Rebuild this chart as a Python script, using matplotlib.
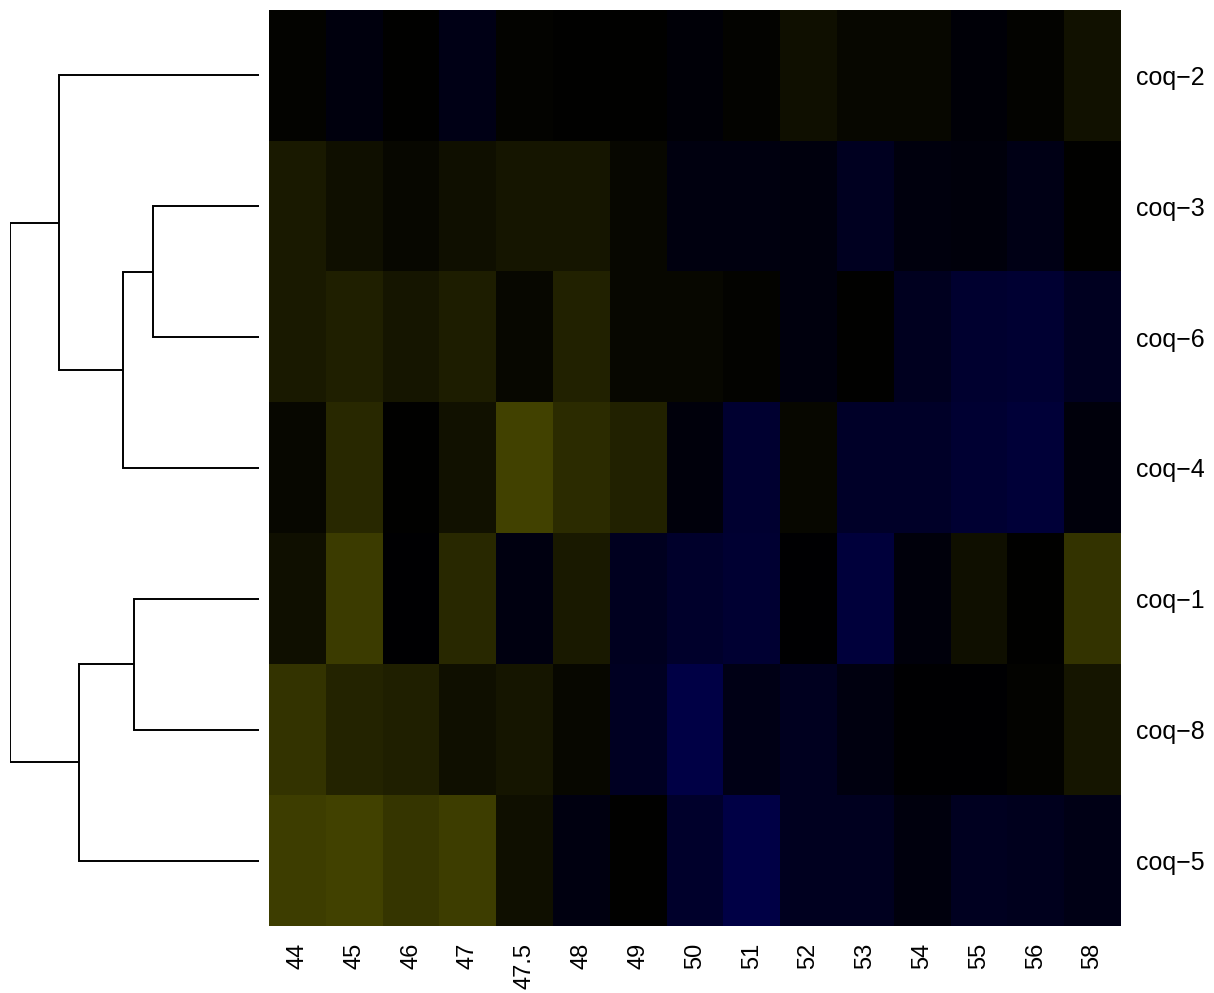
import numpy as np
import matplotlib
matplotlib.use("Agg")
import matplotlib.pyplot as plt
from matplotlib.colors import LinearSegmentedColormap

plt.rcParams['font.family'] = ['Liberation Sans', 'DejaVu Sans']

# ---- data ----
row_labels = ["coq\u22122", "coq\u22123", "coq\u22126", "coq\u22124",
              "coq\u22121", "coq\u22128", "coq\u22125"]
col_labels = ["44", "45", "46", "47", "47.5", "48", "49", "50", "51",
              "52", "53", "54", "55", "56", "58"]

coq2 = [0.01, -0.05, 0.0, -0.08, 0.01, 0.0, 0.0, -0.03, 0.015, 0.055, 0.025, 0.03, -0.03, 0.01, 0.07]
coq3 = [0.10, 0.06, 0.03, 0.06, 0.085, 0.085, 0.03, -0.06, -0.06, -0.05, -0.13, -0.05, -0.04, -0.08, 0.0]
coq6 = [0.10, 0.12, 0.085, 0.11, 0.03, 0.13, 0.03, 0.03, 0.015, -0.05, 0.005, -0.12, -0.18, -0.20, -0.13]
coq4 = [0.025, 0.16, 0.0, 0.07, 0.25, 0.165, 0.125, -0.04, -0.19, 0.03, -0.16, -0.16, -0.20, -0.22, -0.04]
coq1 = [0.06, 0.23, -0.01, 0.16, -0.07, 0.095, -0.12, -0.17, -0.20, -0.015, -0.23, -0.04, 0.055, 0.0, 0.20]
coq8 = [0.20, 0.14, 0.12, 0.055, 0.08, 0.025, -0.14, -0.27, -0.08, -0.12, -0.06, -0.015, -0.01, 0.01, 0.085]
coq5 = [0.235, 0.25, 0.21, 0.235, 0.055, -0.07, 0.0, -0.17, -0.27, -0.125, -0.12, -0.05, -0.13, -0.11, -0.08]

# dendrogram merges: (child_a, child_b, height); leaves are row indices,
# internal nodes are named by index 7+k in order of creation
merges = [
    (1, 2, 106),   # 7: coq-3 + coq-6
    (7, 3, 136),   # 8: + coq-4
    (0, 8, 200),   # 9: coq-2 + ...
    (4, 5, 125),   # 10: coq-1 + coq-8
    (10, 6, 180),  # 11: + coq-5
    (9, 11, 249),  # 12: root
]

# ---- figure ----
W, H = 1214, 993
fig = plt.figure(figsize=(W / 100, H / 100), dpi=100)

def px_axes(x0, y0, x1, y1):
    return fig.add_axes([x0 / W, 1 - y1 / H, (x1 - x0) / W, (y1 - y0) / H])

data = np.array([coq2, coq3, coq6, coq4, coq1, coq8, coq5])
cmap = LinearSegmentedColormap.from_list("bky", ["#0000FF", "#000000", "#FFFF00"], N=256)

ax = px_axes(269, 10, 1121, 926)
ax.imshow(data, cmap=cmap, vmin=-1, vmax=1, aspect="auto", interpolation="nearest")
ax.set_xticks(range(len(col_labels)))
ax.set_xticklabels(col_labels, rotation=90, fontsize=17)
ax.set_yticks(range(len(row_labels)))
ax.set_yticklabels(row_labels, fontsize=18)
ax.yaxis.tick_right()
ax.tick_params(axis="y", length=0, pad=11)
ax.tick_params(axis="x", length=0, pad=12)
for s in ax.spines.values():
    s.set_visible(False)

# ---- dendrogram ----
dax = px_axes(10, 10, 259, 926)
pos = {i: (0.0, float(i)) for i in range(len(row_labels))}
for k, (a, b, h) in enumerate(merges):
    ha, ya = pos[a]
    hb, yb = pos[b]
    dax.plot([ha, h, h, hb], [ya, ya, yb, yb], color="black", lw=1.4,
             solid_joinstyle="miter", solid_capstyle="butt")
    pos[7 + k] = (float(h), (ya + yb) / 2)
root_h = merges[-1][2]
dax.set_xlim(root_h, 0)
dax.set_ylim(len(row_labels) - 0.5, -0.5)
dax.axis("off")

fig.savefig("out.png", dpi=100, facecolor="white")
